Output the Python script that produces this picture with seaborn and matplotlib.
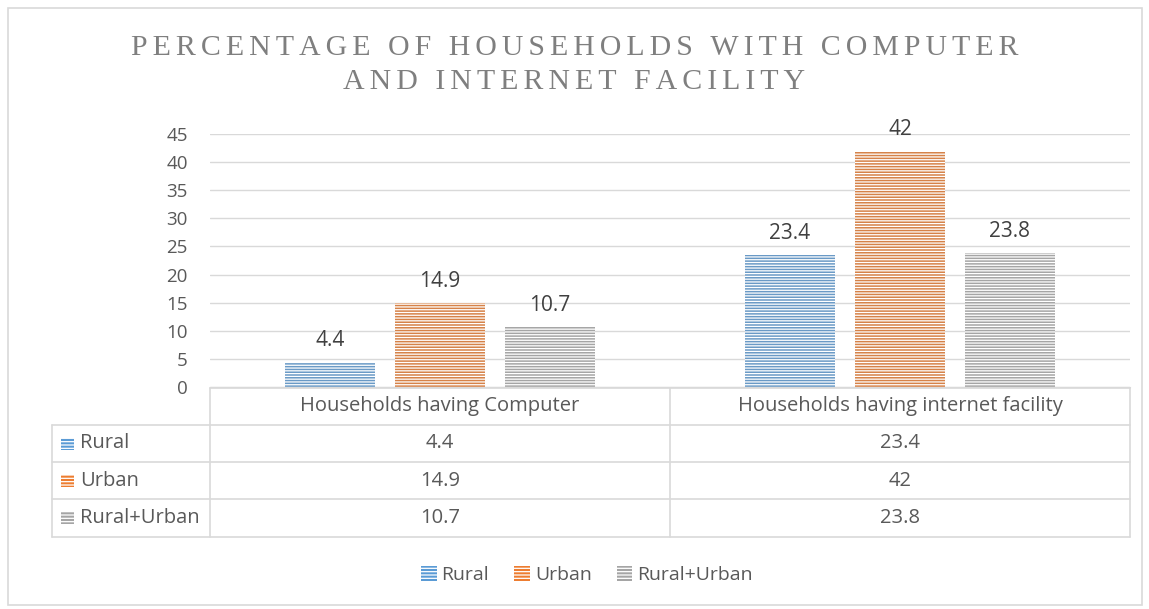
import pandas as pd
import seaborn as sns
import matplotlib.pyplot as plt
from matplotlib.patches import Patch, Rectangle
from matplotlib.lines import Line2D
from matplotlib.transforms import blended_transform_factory

categories = ['Households having Computer', 'Households having internet facility']
areas = ['Rural', 'Urban', 'Rural+Urban']
rural = [4.4, 23.4]
urban = [14.9, 42]
rural_urban = [10.7, 23.8]
colors = ['#5B9BD5', '#ED7D31', '#A5A5A5']
yticks = [0, 5, 10, 15, 20, 25, 30, 35, 40, 45]
title_lines = ['PERCENTAGE OF HOUSEHOLDS WITH COMPUTER', 'AND INTERNET FACILITY']

df = pd.DataFrame({
    'category': categories * 3,
    'area': [a for a in areas for _ in categories],
    'value': rural + urban + rural_urban,
})

sns.set_style('white')
plt.rcParams['font.family'] = ['Open Sans', 'DejaVu Sans']
plt.rcParams['hatch.linewidth'] = 0.9

W, H = 1149, 609
fig = plt.figure(figsize=(W / 100, H / 100), dpi=100)
ax = fig.add_axes([210 / W, 1 - 387 / H, 920 / W, 253 / H])

sns.barplot(data=df, x='category', y='value', hue='area', hue_order=areas,
            palette=colors, width=0.717, gap=0.18, legend=False, ax=ax)
for cont in ax.containers:
    for bar in cont:
        bar.set_hatch('------')
        bar.set_edgecolor('white')
        bar.set_linewidth(0)
    ax.bar_label(cont, fmt='%g', padding=8, fontsize=15, color='#404040')

ax.set_xlim(-0.5, 1.5)
ax.set_ylim(0, 45)
ax.set_yticks(yticks)
ax.yaxis.grid(True, color='#D9D9D9', linewidth=1)
ax.set_axisbelow(True)
ax.tick_params(axis='y', labelsize=13.5, labelcolor='#595959', length=0, pad=16)
ax.set_xticks([])
ax.set_xlabel('')
ax.set_ylabel('')
for s in ['left', 'right', 'top']:
    ax.spines[s].set_visible(False)
ax.spines['bottom'].set_color('#D9D9D9')

# title with letter spacing (hair spaces between letters)
def spaced(s):
    return '\u200a\u200a'.join(s)

fig.text(0.5, 1 - 65 / H, '\n'.join(spaced(t) for t in title_lines),
         ha='center', va='center', fontsize=21.5, color='#7F7F7F',
         family=['Liberation Serif', 'DejaVu Serif'], linespacing=1.38)

# data table below the axis
tr = blended_transform_factory(ax.transData, fig.transFigure)
fy = lambda p: 1 - p / H
line_kw = dict(color='#D9D9D9', linewidth=1.2)
row_tops = [388, 425, 462, 499, 537]
fig.add_artist(Line2D([-0.5, 1.5], [fy(388), fy(388)], transform=tr, **line_kw))
for r in row_tops[1:]:
    fig.add_artist(Line2D([52 / W, 1130 / W], [fy(r), fy(r)], **line_kw))
for xb in [-0.5, 0.5, 1.5]:
    fig.add_artist(Line2D([xb, xb], [fy(388), fy(537)], transform=tr, **line_kw))
fig.add_artist(Line2D([52 / W, 52 / W], [fy(425), fy(537)], **line_kw))

txt_kw = dict(fontsize=14.5, color='#595959', va='center')
for i, cat in enumerate(categories):
    fig.text(i, fy(406), cat, transform=tr, ha='center', **txt_kw)
series = [rural, urban, rural_urban]
for j, (name, vals, c) in enumerate(zip(areas, series, colors)):
    yc = fy((row_tops[j + 1] + row_tops[j + 2]) / 2)
    fig.add_artist(Rectangle((61 / W, yc - 6 / H), 13 / W, 12 / H,
                             facecolor=c, hatch='-----', edgecolor='white', linewidth=0))
    fig.text(80 / W, yc, name, ha='left', **txt_kw)
    for i, v in enumerate(vals):
        fig.text(i, yc, f'{v:g}', transform=tr, ha='center', **txt_kw)

# legend
handles = [Patch(facecolor=c, hatch='-----', edgecolor='white', linewidth=0, label=a)
           for a, c in zip(areas, colors)]
fig.legend(handles=handles, loc='center', bbox_to_anchor=(587 / W, fy(575)), ncol=3,
           frameon=False, fontsize=14, labelcolor='#595959', handlelength=0.8,
           handleheight=0.8, handletextpad=0.25, columnspacing=1.3)

# outer chart frame
fig.add_artist(Rectangle((8 / W, 4 / H), 1134 / W, 597 / H, fill=False,
                         edgecolor='#D9D9D9', linewidth=1.2))

fig.savefig('out.png', dpi=100)
